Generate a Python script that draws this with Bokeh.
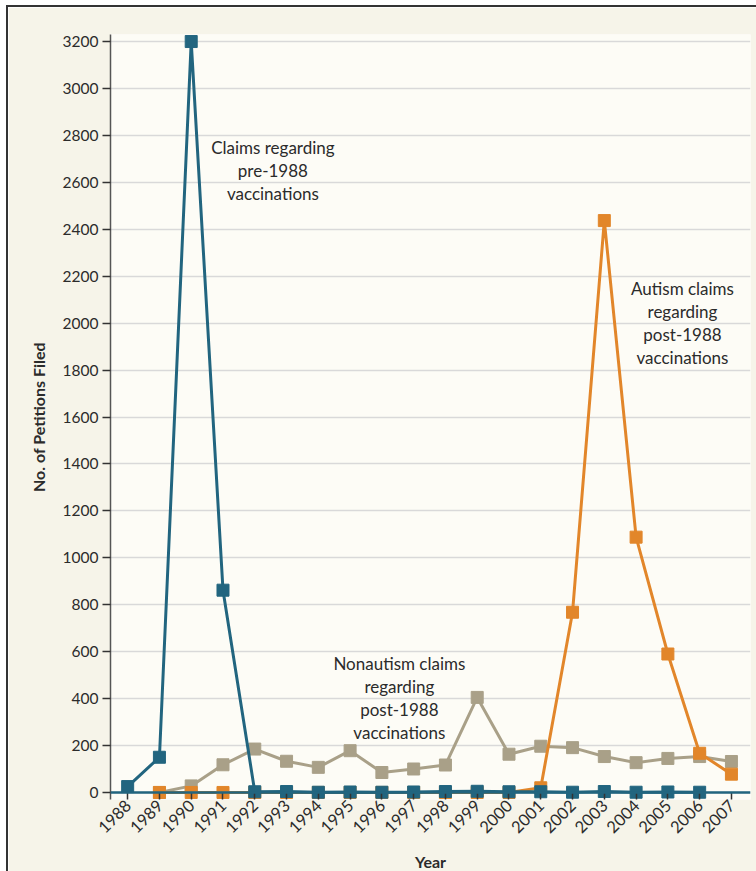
import math
from bokeh.plotting import figure
from bokeh.models import FixedTicker, Span, ColumnDataSource
from bokeh.core.properties import value
from bokeh.embed import file_html
from bokeh.resources import INLINE

# ---- data ----
YEARS = [1988, 1989, 1990, 1991, 1992, 1993, 1994, 1995, 1996, 1997,
         1998, 1999, 2000, 2001, 2002, 2003, 2004, 2005, 2006, 2007]

pre_years = [1988, 1989, 1990, 1991, 1992, 1993, 1994, 1995, 1996, 1997,
             1998, 1999, 2000, 2001, 2002, 2003, 2004, 2005, 2006]
pre_vals = [25, 150, 3200, 862, 3, 4, 1, 2, 1, 2,
            4, 5, 3, 3, 1, 4, 1, 2, 1]

non_years = [1989, 1990, 1991, 1992, 1993, 1994, 1995, 1996, 1997, 1998,
             1999, 2000, 2001, 2002, 2003, 2004, 2005, 2006, 2007]
non_vals = [0, 28, 118, 185, 133, 107, 178, 85, 100, 117,
            405, 163, 197, 191, 153, 127, 145, 153, 132]

aut_years = [1989, 1990, 1991, 1992, 1993, 1994, 1995, 1996, 1997, 1998,
             1999, 2000, 2001, 2002, 2003, 2004, 2005, 2006, 2007]
aut_vals = [0, 0, 0, 0, 0, 0, 0, 0, 0, 0,
            0, 0, 20, 768, 2437, 1088, 590, 167, 78]

Y_TICKS = [0, 200, 400, 600, 800, 1000, 1200, 1400, 1600, 1800,
           2000, 2200, 2400, 2600, 2800, 3000, 3200]

label_x = [1992.57, 2005.46, 1996.55]
label_y = [2650, 2000, 404]
label_text = ["Claims regarding\npre-1988\nvaccinations",
              "Autism claims\nregarding\npost-1988\nvaccinations",
              "Nonautism claims\nregarding\npost-1988\nvaccinations"]

BLUE = "#22657f"
ORANGE = "#e2862a"
TAN = "#a9a088"
TEXT = "#2b2b2b"
FONT = "Lato"

p = figure(width=748, height=864, output_backend="svg", toolbar_location=None,
           x_range=(1987.46, 2007.60), y_range=(-30, 3230),
           min_border_left=102, min_border_right=8, min_border_top=27,
           min_border_bottom=74)

p.background_fill_color = "#fdfcf6"
p.border_fill_color = "#f6f4e9"
p.outline_line_color = None
p.styles = {"margin-left": "6px", "margin-top": "5px", "box-sizing": "content-box",
            "border-left": "2px solid #333333", "border-top": "2px solid #333333",
            "border-right": "none", "border-bottom": "none"}

p.xgrid.grid_line_color = None
p.ygrid.grid_line_color = "#d9d9d9"
p.ygrid.grid_line_width = 1.5

p.yaxis.ticker = FixedTicker(ticks=Y_TICKS)
p.xaxis.ticker = FixedTicker(ticks=YEARS)

for ax in (p.xaxis[0], p.yaxis[0]):
    ax.major_label_text_font = FONT
    ax.major_label_text_font_size = "15.5px"
    ax.major_label_text_color = TEXT
    ax.axis_label_text_font = FONT
    ax.axis_label_text_font_size = "16px"
    ax.axis_label_text_font_style = "bold"
    ax.axis_label_text_color = TEXT
    ax.minor_tick_line_color = None
    ax.major_tick_line_color = "#333333"
    ax.major_tick_line_width = 1.5

p.xaxis.major_label_text_font_size = "16.5px"

p.yaxis.axis_label = "No. of Petitions Filed"
p.yaxis.axis_line_color = "#555555"
p.yaxis.axis_line_width = 1.5
p.yaxis.major_tick_in = 0
p.yaxis.major_tick_out = 8
p.yaxis.major_label_standoff = 4
p.yaxis.axis_label_standoff = 12

p.xaxis.axis_label = "Year"
p.xaxis.axis_line_color = None
p.xaxis.major_tick_in = 7
p.xaxis.major_tick_out = 0
p.xaxis.major_label_orientation = math.pi / 4
p.xaxis.major_label_standoff = 3
p.xaxis.axis_label_standoff = 10

# zero baseline
p.add_layout(Span(location=0, dimension="width", line_color=BLUE, line_width=2.5))

def series(xs, ys, color):
    src = ColumnDataSource(dict(x=xs, y=ys))
    p.line("x", "y", source=src, line_color=color, line_width=3)
    p.scatter("x", "y", source=src, marker="square", size=12,
              fill_color=color, line_color=color)

series(non_years, non_vals, TAN)
series(aut_years, aut_vals, ORANGE)
series(pre_years, pre_vals, BLUE)

p.text(x=label_x, y=label_y, text=label_text, text_align="center",
       text_baseline="middle", text_font=value(FONT), text_font_size="17px",
       text_color=TEXT, text_line_height=1.1)

open("out.html", "w").write(file_html(p, INLINE))
